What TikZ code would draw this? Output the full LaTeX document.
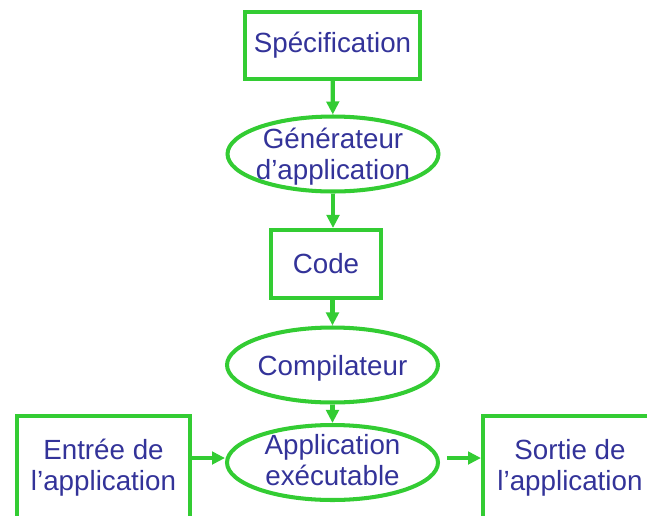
\documentclass[tikz,border=0pt]{standalone}
\usepackage{fontspec}
\setmainfont{Liberation Sans}
\usetikzlibrary{shapes.geometric,arrows.meta}
\definecolor{vert}{RGB}{51,204,51}
\definecolor{bleu}{RGB}{51,51,153}

\begin{document}
\begin{tikzpicture}[x=0.02cm, y=-0.02cm,
  every node/.style={text=bleu, font=\fontsize{15.8}{17.6}\selectfont, align=center},
  boite/.style={draw=vert, line width=2.3pt, shape=rectangle, inner sep=0pt},
  proc/.style={draw=vert, line width=2.3pt, shape=ellipse, inner sep=0pt,
    minimum width=4.22cm, minimum height=1.5cm},
  fleche/.style={draw=vert, line width=2.4pt, -{Triangle[width=0.25cm, length=0.26cm]}}]

\useasboundingbox (0,0) rectangle (647,515);
\clip (0,0) rectangle (647,515);

\node[boite, minimum width=3.5cm, minimum height=1.34cm] (0) at (332.5, 45.5) {Spécification};
\node[proc] (1) at (333, 154) {};
\node[boite, minimum width=2.2cm, minimum height=1.36cm] (2) at (326, 264) {Code};
\node[proc] (3) at (332.5, 365) {};
\node[proc] (4) at (332.5, 462.5) {};
\node[boite, minimum width=3.46cm, minimum height=2.08cm] (5) at (103.5, 468) {Entrée de\\l’application};
\node[boite, minimum width=3.48cm, minimum height=2.08cm] (6) at (570, 468) {Sortie de\\l’application};

\node[] (7) at (333, 157) {Générateur\\d’application};
\node[] (8) at (332.5, 368) {Compilateur};
\node[] (9) at (332.5, 460.5) {Application\\exécutable};

\coordinate (10) at ([yshift=0.09cm]4.west);
\coordinate (11) at ([xshift=0.14cm, yshift=0.09cm]4.east);

\draw (0) edge[fleche] (1);
\draw (1) edge[fleche] (1 |- 2.north);
\draw (2.south -| 3) edge[fleche] (3);
\draw (3) edge[fleche] (4);
\draw (10 -| 5.east) edge[fleche] (10);
\draw (11) edge[fleche] (11 -| 6.west);
\end{tikzpicture}
\end{document}
